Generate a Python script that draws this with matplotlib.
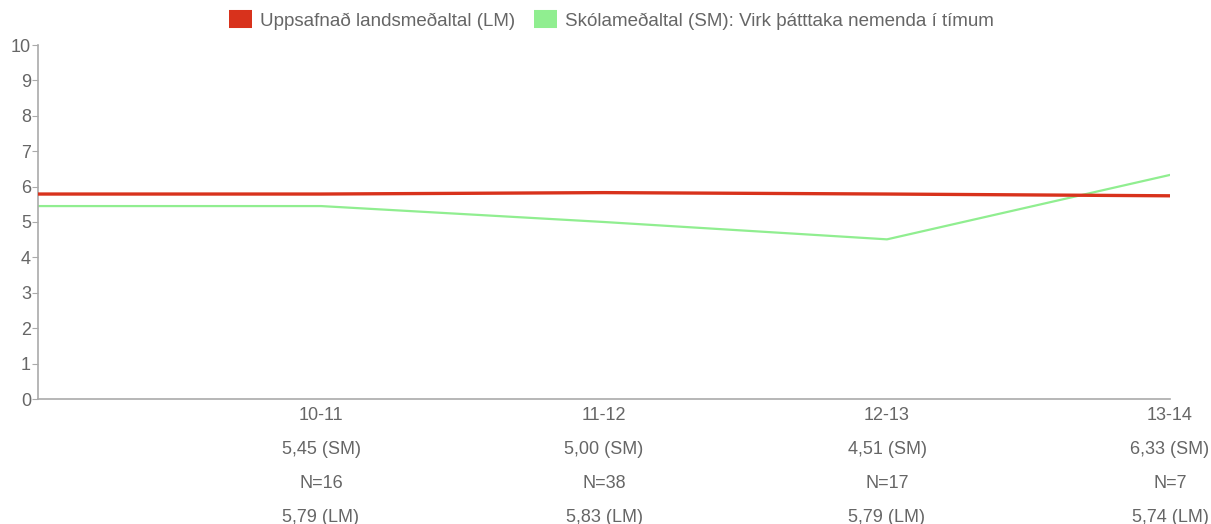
import matplotlib.pyplot as plt

plt.rcParams['font.family'] = ['Liberation Sans', 'DejaVu Sans']

# ===== DATA =====
timabil = ["", "10-11", "11-12", "12-13", "13-14"]
sm = [5.45, 5.45, 5.00, 4.51, 6.33]   # skólameðaltal (fyrsti punktur = upphaf línu)
lm = [5.79, 5.79, 5.83, 5.79, 5.74]   # uppsafnað landsmeðaltal
fjoldi = ["", "16", "38", "17", "7"]

grey = "#666666"
axgrey = "#aaaaaa"

fig = plt.figure(figsize=(12.11, 5.24), dpi=100)
ax = fig.add_axes([38 / 1211, 1 - 399 / 524, (1170 - 38) / 1211, (399 - 45) / 524])

x = list(range(len(timabil)))
ax.plot(x, lm, color="#d8321c", lw=2.4, label="Uppsafnað landsmeðaltal (LM)", zorder=3)
ax.plot(x, sm, color="#90ee90", lw=1.6, label="Skólameðaltal (SM): Virk þátttaka nemenda í tímum", zorder=2)

ax.set_xlim(0, len(timabil) - 1)
ax.set_ylim(0, 10)
ax.set_yticks(range(0, 11))

labels = []
for t, s, n, l in zip(timabil, sm, fjoldi, lm):
    if t == "":
        labels.append("")
    else:
        labels.append(f"{t}\n{s:.2f} (SM)\nN={n}\n{l:.2f} (LM)".replace(".", ","))
ax.set_xticks(x)
ax.set_xticklabels(labels, linespacing=2.3, color=grey, fontsize=13)
ax.tick_params(axis="x", length=0, pad=6)
ax.tick_params(axis="y", length=4, width=0.8, color=axgrey, labelcolor=grey, labelsize=13, pad=1)

for s in ["top", "right"]:
    ax.spines[s].set_visible(False)
for s in ["left", "bottom"]:
    ax.spines[s].set_color(axgrey)
    ax.spines[s].set_linewidth(1.2)

leg = fig.legend(loc="upper center", bbox_to_anchor=(0.505, 1.01), ncol=2, frameon=False,
                 fontsize=13.5, handlelength=1.2, handleheight=1.0, columnspacing=1.0,
                 handletextpad=0.45)
for h in leg.legend_handles:
    h.set_linewidth(13)
    h.set_solid_capstyle("butt")
for t in leg.get_texts():
    t.set_color(grey)

fig.savefig("out.png", dpi=100)
